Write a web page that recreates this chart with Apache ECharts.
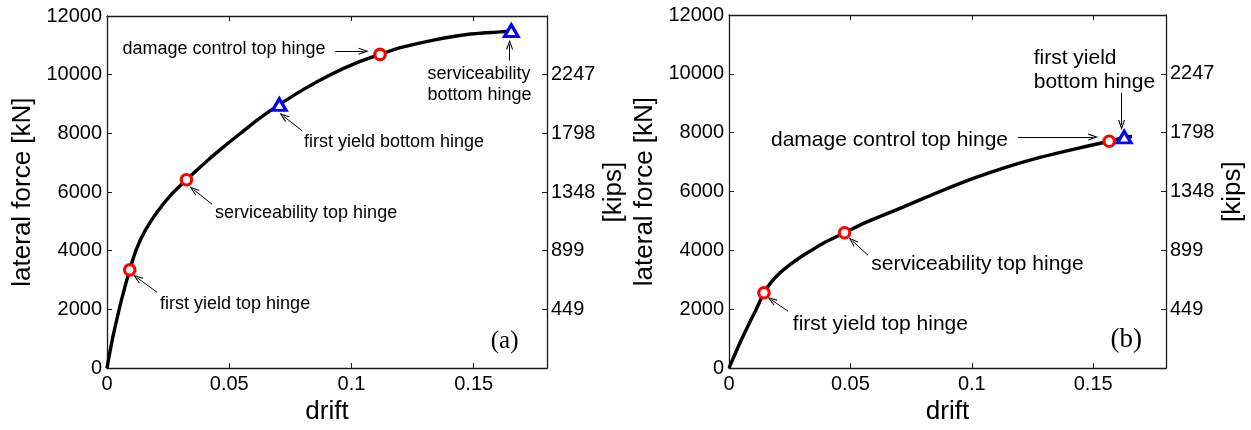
<!DOCTYPE html>
<html>
<head>
<meta charset="utf-8">
<script src="https://cdn.jsdelivr.net/npm/echarts@6/dist/echarts.min.js"></script>
<style>
  html, body { margin: 0; padding: 0; background: #fff; }
  #chart { width: 1251px; height: 430px; }
</style>
</head>
<body>
<div id="chart"></div>
<script>
// Pushover curves: lateral force [kN] against drift, two frames (a) and (b)

// (a) capacity curve
const driftA = [0, 0.002, 0.004, 0.006, 0.0093, 0.012, 0.0157, 0.0205, 0.026, 0.0325, 0.0409, 0.0477, 0.0555, 0.0625, 0.0705, 0.0804, 0.0914, 0.1023, 0.1117, 0.12, 0.1336, 0.1473, 0.1609, 0.1655];
const forceA = [0, 900, 1650, 2350, 3350, 4050, 4700, 5320, 5890, 6420, 7060, 7540, 8060, 8520, 8980, 9500, 10000, 10410, 10690, 10920, 11180, 11370, 11460, 11490];

// (a) hinge events
const circleDriftA = [0.0093, 0.0325, 0.1117];
const circleForceA = [3350, 6420, 10690];
const triangleDriftA = [0.0705, 0.1654];
const triangleForceA = [8980, 11500];

// (b) capacity curve
const driftB = [0, 0.0044, 0.0085, 0.011, 0.0144, 0.0175, 0.021, 0.025, 0.03, 0.0333, 0.0401, 0.0476, 0.0566, 0.0704, 0.0869, 0.1006, 0.1143, 0.1281, 0.1418, 0.1566, 0.1628, 0.166];
const forceB = [0, 835, 1550, 1960, 2560, 2930, 3240, 3510, 3800, 3970, 4300, 4600, 4960, 5430, 6000, 6445, 6830, 7160, 7435, 7710, 7840, 7870];

// (b) hinge events
const circleDriftB = [0.0144, 0.0476, 0.1566];
const circleForceB = [2560, 4600, 7710];
const triangleDriftB = [0.1628];
const triangleForceB = [7850];

// secondary axis: force in kips at every 2000 kN step
const kipsTickLabels = ['449', '899', '1348', '1798', '2247'];

const SANS = 'Liberation Sans';
const SERIF = 'Liberation Serif';
const FRAME = '#1a1a1a';
// open arrowhead pointing up; markLine rotates it along the line
const ARROW_HEAD = 'path://M0,10 L5,0 L10,10 L8.4,10 L5,3.2 L1.6,10 Z';

const zip = (xs, ys) => xs.map((x, i) => [x, ys[i]]);

function frameX(grid, bottom) {
  return {
    type: 'value', gridIndex: grid, min: 0, max: 0.18, interval: 0.05,
    position: bottom ? 'bottom' : 'top',
    axisLine: { show: true, onZero: false, lineStyle: { color: FRAME, width: 1.3 } },
    axisTick: { show: true, inside: true, length: 5, lineStyle: { color: FRAME, width: 1 } },
    axisLabel: {
      show: bottom, margin: 6, color: '#000', fontSize: 20, fontFamily: SANS,
      showMaxLabel: false, formatter: (v) => String(+v.toFixed(2))
    },
    splitLine: { show: false },
    name: bottom ? 'drift' : '', nameLocation: 'middle', nameGap: 27,
    nameTextStyle: { fontSize: 26, color: '#000', fontFamily: SANS }
  };
}

function frameY(grid, left) {
  return {
    type: 'value', gridIndex: grid, min: 0, max: 12000, interval: 2000,
    position: left ? 'left' : 'right',
    axisLine: { show: true, onZero: false, lineStyle: { color: FRAME, width: 1.3 } },
    axisTick: { show: true, inside: true, length: 5, lineStyle: { color: FRAME, width: 1 } },
    axisLabel: {
      show: true, margin: left ? 5 : 4, color: '#000', fontSize: 20, fontFamily: SANS,
      formatter: left ? (v) => String(v) : (v) => {
        const i = Math.round(v / 2000) - 1;
        return (i >= 0 && i < kipsTickLabels.length) ? kipsTickLabels[i] : '';
      }
    },
    splitLine: { show: false },
    name: left ? 'lateral force [kN]' : '[kips]',
    nameLocation: 'middle', nameRotate: 90, nameGap: left ? 71 : 54,
    nameTextStyle: { fontSize: 26, color: '#000', fontFamily: SANS }
  };
}

function curveSeries(axis, xs, ys) {
  return {
    type: 'line', xAxisIndex: axis, yAxisIndex: axis, data: zip(xs, ys),
    symbol: 'none', smooth: 0.25,
    lineStyle: { color: '#000', width: 3.4 },
    silent: true, z: 3
  };
}

function markerSeries(axis, xs, ys, kind) {
  const circle = kind === 'circle';
  return {
    type: 'scatter', xAxisIndex: axis, yAxisIndex: axis, data: zip(xs, ys),
    symbol: circle ? 'circle' : 'triangle',
    symbolSize: circle ? 10.5 : [13.5, 11.5],
    itemStyle: { color: '#fff', borderColor: circle ? '#ff0000' : '#0000ff', borderWidth: 3.2, opacity: 1 },
    silent: true, z: 5
  };
}

function noteSeries(axis, notes, fontSize, lineHeight, tag, tagSize) {
  const data = notes.map(n => ({ value: n.at, name: n.text }));
  data.push({
    value: tag.at, name: tag.text,
    label: { fontFamily: SERIF, fontSize: tagSize, lineHeight: tagSize }
  });
  return {
    type: 'scatter', xAxisIndex: axis, yAxisIndex: axis, data,
    symbolSize: 1, itemStyle: { color: 'transparent', opacity: 1 }, silent: true, z: 6,
    label: {
      show: true, position: 'right', distance: 0, align: 'left', verticalAlign: 'middle',
      formatter: '{b}', color: '#000', opacity: 1, textBorderWidth: 0,
      fontSize, lineHeight, fontFamily: SANS
    },
    markLine: {
      silent: true, animation: false,
      symbol: ['none', ARROW_HEAD], symbolSize: [7, 10],
      lineStyle: { color: '#000', width: 1, type: 'solid', opacity: 1 },
      label: { show: false }, emphasis: { disabled: true },
      data: notes.map(n => [{ coord: n.from }, { coord: n.to }])
    }
  };
}

// annotation placement (data units of each panel)
const notesA = [
  { text: 'damage control top hinge', at: [0.0061, 10865], from: [0.0934, 10800], to: [0.1050, 10800] },
  { text: 'first yield bottom hinge', at: [0.0804, 7696], from: [0.0798, 8087], to: [0.0722, 8587] },
  { text: 'serviceability\nbottom hinge', at: [0.1309, 9655], from: [0.1647, 10475], to: [0.1647, 11032] },
  { text: 'serviceability top hinge', at: [0.0440, 5300], from: [0.0430, 5584], to: [0.0354, 6085] },
  { text: 'first yield top hinge', at: [0.0215, 2200], from: [0.0205, 2582], to: [0.0123, 3082] }
];
const notesB = [
  { text: 'first yield top hinge', at: [0.0261, 1480], from: [0.0243, 1934], to: [0.0175, 2320] },
  { text: 'serviceability top hinge', at: [0.0584, 3530], from: [0.0573, 3831], to: [0.0508, 4326] },
  { text: 'damage control top hinge', at: [0.0171, 7740], from: [0.1191, 7851], to: [0.1500, 7851] },
  { text: 'first yield\nbottom hinge', at: [0.1253, 10120], from: [0.1617, 9359], to: [0.1617, 8260] }
];

const chart = echarts.init(document.getElementById('chart'), null, { renderer: 'canvas' });
chart.setOption({
  animation: false,
  backgroundColor: '#fff',
  grid: [
    { left: 107, top: 16, width: 440, height: 360 },
    { left: 729, top: 15, width: 437, height: 364 }
  ],
  xAxis: [frameX(0, true), frameX(0, false), frameX(1, true), frameX(1, false)],
  yAxis: [frameY(0, true), frameY(0, false), frameY(1, true), frameY(1, false)],
  series: [
    curveSeries(0, driftA, forceA),
    markerSeries(0, circleDriftA, circleForceA, 'circle'),
    markerSeries(0, triangleDriftA, triangleForceA, 'triangle'),
    noteSeries(0, notesA, 18, 21, { text: '(a)', at: [0.1568, 924] }, 25),
    curveSeries(2, driftB, forceB),
    markerSeries(2, circleDriftB, circleForceB, 'circle'),
    markerSeries(2, triangleDriftB, triangleForceB, 'triangle'),
    noteSeries(2, notesB, 21, 23.4, { text: '(b)', at: [0.1569, 944] }, 27)
  ]
});
</script>
</body>
</html>
